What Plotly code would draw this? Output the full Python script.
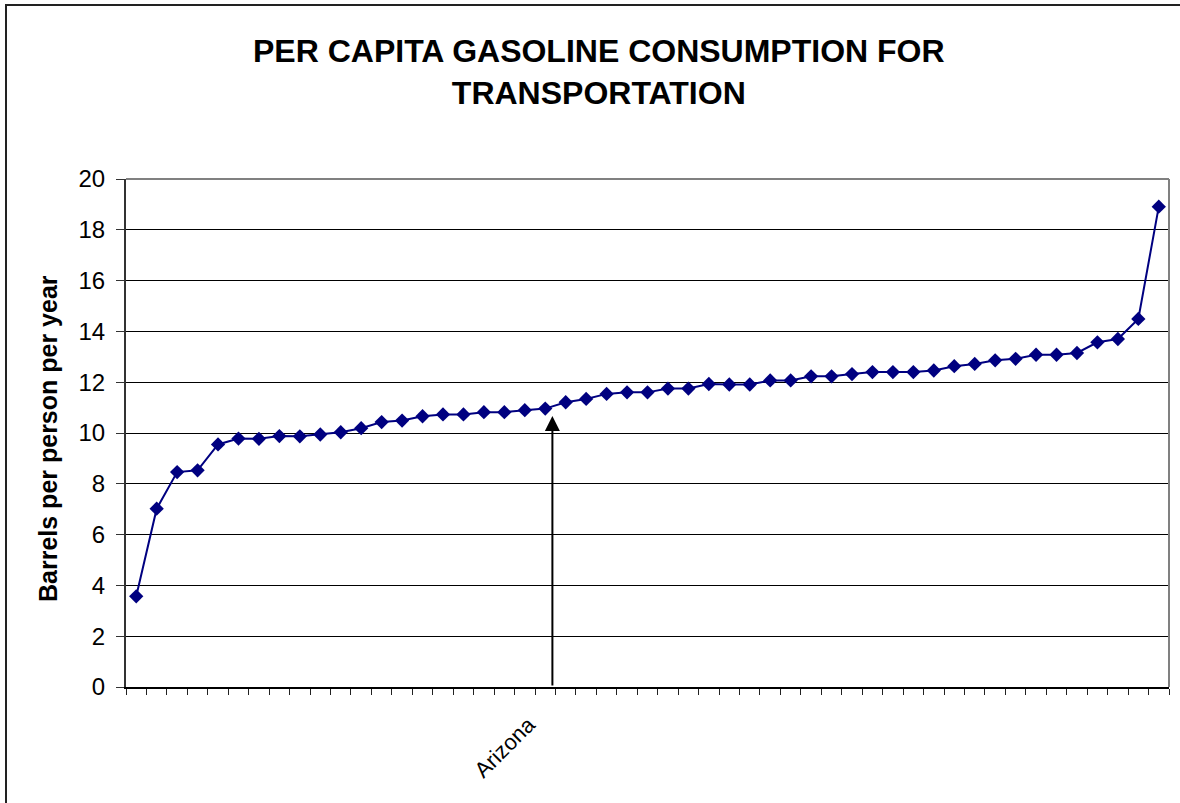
import plotly.graph_objects as go

# ---- data ----
values = [3.57, 7.02, 8.46, 8.53, 9.55, 9.78, 9.77, 9.88, 9.87, 9.94,
          10.03, 10.19, 10.43, 10.49, 10.66, 10.73, 10.73, 10.82, 10.82, 10.90,
          10.96, 11.21, 11.34, 11.54, 11.60, 11.60, 11.75, 11.75, 11.93, 11.91,
          11.91, 12.07, 12.07, 12.23, 12.23, 12.32, 12.40, 12.40, 12.40, 12.46,
          12.63, 12.72, 12.86, 12.92, 13.08, 13.08, 13.15, 13.57, 13.70, 14.49,
          18.91]
labels = [""] * len(values)
labels[20] = "Arizona"
y_ticks = [0, 2, 4, 6, 8, 10, 12, 14, 16, 18, 20]
arrow_x = 20.35      # category position of the arrow (between Arizona and the next state)
arrow_tip = 10.67    # value where the arrow head ends

title_text = "PER CAPITA GASOLINE CONSUMPTION FOR<br>TRANSPORTATION"
y_title = "Barrels per person per year"

FONT = "Liberation Sans, Arial, sans-serif"
n = len(values)
xs = list(range(n))

fig = go.Figure()
fig.add_trace(go.Scatter(
    x=xs, y=values, mode="lines+markers",
    line=dict(color="#000080", width=2),
    marker=dict(symbol="diamond", size=11, color="#000080"),
    showlegend=False, cliponaxis=False,
))

W, H = 1180, 803
L, R, T, B = 126, 11, 179, 116
pw, ph = W - L - R, H - T - B

def px_x(px):
    return (px - L) / pw

def px_y(py):
    return (H - B - py) / ph

fig.update_layout(
    width=W, height=H,
    margin=dict(l=L, r=R, t=T, b=B, pad=0),
    paper_bgcolor="white", plot_bgcolor="white",
    font=dict(family=FONT, color="black"),
    xaxis=dict(
        range=[-0.5, n - 0.5], tickmode="array",
        tickvals=[i - 0.5 for i in range(n + 1)],
        showticklabels=False, ticks="outside", ticklen=6, tickcolor="#222",
        showgrid=False, zeroline=False,
        showline=True, linecolor="black", linewidth=2,
    ),
    yaxis=dict(
        range=[0, 20], tickmode="array", tickvals=y_ticks,
        ticktext=[str(v) for v in y_ticks],
        ticks="outside", ticklen=8, tickcolor="#333",
        tickfont=dict(size=24, family=FONT, color="black"),
        ticklabelstandoff=6,
        showgrid=True, gridcolor="black", gridwidth=1,
        zeroline=False, showline=True, linecolor="#333", linewidth=2,
    ),
)

shapes = []
# plot-area border (top and right, gray)
shapes.append(dict(type="line", xref="paper", yref="paper", x0=0, x1=1, y0=1, y1=1,
                   line=dict(color="#808080", width=2)))
shapes.append(dict(type="line", xref="paper", yref="paper", x0=1, x1=1, y0=0, y1=1,
                   line=dict(color="#808080", width=2)))
# outer chart border
shapes.append(dict(type="rect", xref="paper", yref="paper",
                   x0=px_x(6), x1=px_x(1190), y0=px_y(5), y1=px_y(815),
                   line=dict(color="#222", width=2), fillcolor="rgba(0,0,0,0)"))
fig.update_layout(shapes=shapes)

annotations = []
# title
annotations.append(dict(
    text="<b>" + title_text.replace("<br>", "</b><br><b>") + "</b>",
    xref="paper", yref="paper", x=px_x(598.5), y=px_y(72),
    xanchor="center", yanchor="middle", showarrow=False,
    font=dict(size=32, family=FONT, color="black"), align="center",
))
# y-axis title
annotations.append(dict(
    text="<b>" + y_title + "</b>", textangle=-90,
    xref="paper", yref="paper", x=px_x(48), y=px_y(439),
    xanchor="center", yanchor="middle", showarrow=False,
    font=dict(size=25, family=FONT, color="black"),
))
# category labels (only Arizona is shown)
for i, lab in enumerate(labels):
    if lab:
        annotations.append(dict(
            text=lab, textangle=-45, xref="x", yref="paper",
            x=i - 2.0, y=px_y(747), xanchor="center", yanchor="middle",
            showarrow=False, font=dict(size=22, family=FONT, color="black"),
        ))
# arrow
annotations.append(dict(
    text="", x=arrow_x, y=arrow_tip, xref="x", yref="y",
    ax=arrow_x, ay=0, axref="x", ayref="y",
    showarrow=True, arrowhead=2, arrowsize=1.5, arrowwidth=2, arrowcolor="black",
))
fig.update_layout(annotations=annotations)

fig.write_html("out.html")
